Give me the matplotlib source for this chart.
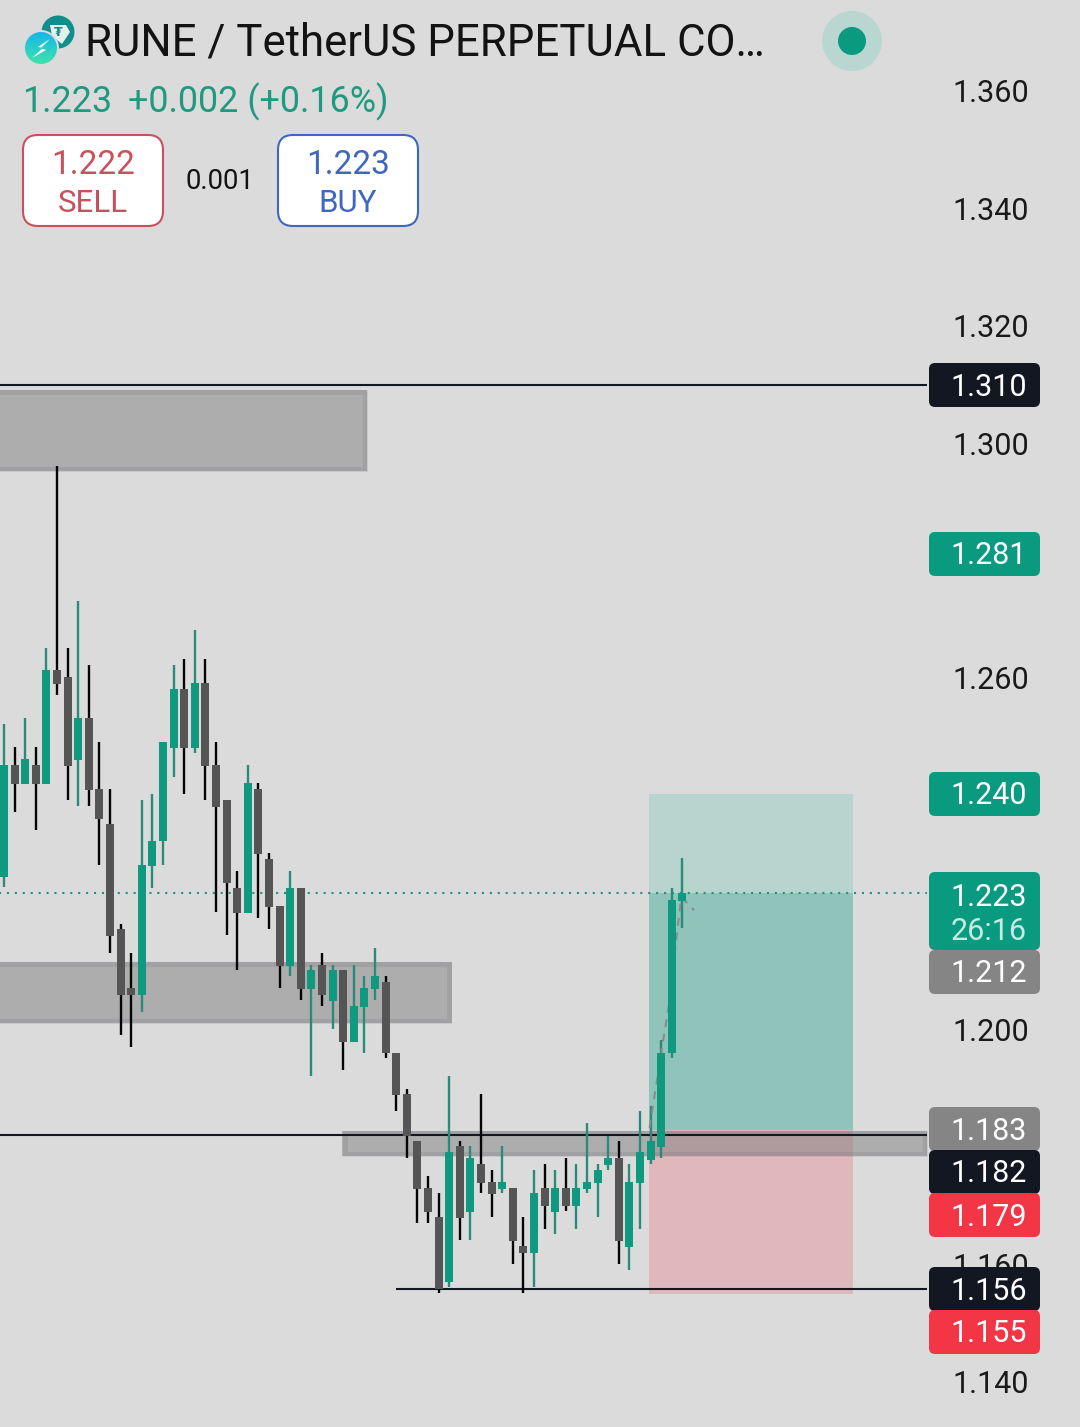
import numpy as np
import matplotlib
matplotlib.use("Agg")
import matplotlib.pyplot as plt
from matplotlib.patches import Rectangle, Circle, FancyBboxPatch, Polygon

plt.rcParams["font.family"] = ["Roboto", "DejaVu Sans"]

# ============================================================
# Candles, oldest first
# ============================================================
opens = [1.2261, 1.2451, 1.2419, 1.2451, 1.2419, 1.2613, 1.2602, 1.2460, 1.2531, 1.2411,
         1.2351, 1.2172, 1.2071, 1.2059, 1.2279, 1.2322, 1.2480, 1.2581, 1.2480, 1.2591,
         1.2451, 1.2392, 1.2241, 1.2199, 1.2411, 1.2292, 1.2211, 1.2109, 1.2241, 1.2070,
         1.2111, 1.2049, 1.2102, 1.1979, 1.2039, 1.2070, 1.2082, 1.1960, 1.1890, 1.1810,
         1.1730, 1.1681, 1.1571, 1.1802, 1.1690, 1.1771, 1.1741, 1.1729, 1.1730, 1.1632,
         1.1620, 1.1730, 1.1690, 1.1730, 1.1700, 1.1729, 1.1739, 1.1769, 1.1781, 1.1630,
         1.1739, 1.1779, 1.1800, 1.1960, 1.2219]
highs = [1.2521, 1.2482, 1.2531, 1.2482, 1.2651, 1.2961, 1.2651, 1.2731, 1.2622, 1.2490,
         1.2411, 1.2180, 1.2131, 1.2392, 1.2402, 1.2490, 1.2622, 1.2632, 1.2682, 1.2632,
         1.2490, 1.2392, 1.2270, 1.2451, 1.2421, 1.2302, 1.2211, 1.2270, 1.2241, 1.2111,
         1.2131, 1.2111, 1.2102, 1.2111, 1.2092, 1.2140, 1.2092, 1.1960, 1.1900, 1.1810,
         1.1751, 1.1722, 1.1921, 1.1810, 1.1802, 1.1890, 1.1761, 1.1802, 1.1730, 1.1681,
         1.1761, 1.1771, 1.1761, 1.1781, 1.1771, 1.1841, 1.1771, 1.1820, 1.1810, 1.1771,
         1.1861, 1.1871, 1.1982, 1.2241, 1.2293]
lows = [1.2244, 1.2372, 1.2419, 1.2341, 1.2419, 1.2571, 1.2392, 1.2382, 1.2382, 1.2281,
        1.2131, 1.1991, 1.1971, 1.2031, 1.2241, 1.2281, 1.2431, 1.2402, 1.2472, 1.2392,
        1.2201, 1.2162, 1.2102, 1.2199, 1.2190, 1.2172, 1.2071, 1.2092, 1.2051, 1.1921,
        1.2041, 1.2002, 1.1932, 1.1979, 1.1960, 1.2051, 1.1952, 1.1861, 1.1781, 1.1671,
        1.1671, 1.1552, 1.1562, 1.1642, 1.1642, 1.1722, 1.1681, 1.1722, 1.1601, 1.1552,
        1.1562, 1.1661, 1.1652, 1.1691, 1.1661, 1.1722, 1.1681, 1.1761, 1.1601, 1.1591,
        1.1661, 1.1771, 1.1781, 1.1952, 1.2174]
closes = [1.2451, 1.2419, 1.2461, 1.2419, 1.2613, 1.2589, 1.2449, 1.2531, 1.2409, 1.2360,
          1.2160, 1.2059, 1.2059, 1.2281, 1.2322, 1.2490, 1.2581, 1.2480, 1.2591, 1.2449,
          1.2380, 1.2250, 1.2199, 1.2421, 1.2300, 1.2209, 1.2109, 1.2241, 1.2070, 1.2102,
          1.2059, 1.2102, 1.1979, 1.2041, 1.2071, 1.2092, 1.1960, 1.1889, 1.1820, 1.1729,
          1.1690, 1.1559, 1.1792, 1.1679, 1.1781, 1.1739, 1.1720, 1.1741, 1.1640, 1.1620,
          1.1722, 1.1700, 1.1730, 1.1700, 1.1730, 1.1741, 1.1761, 1.1781, 1.1640, 1.1741,
          1.1792, 1.1810, 1.1960, 1.2221, 1.2233]

# projected path, x in bars and price
path_bars = [60.9, 61.9, 62.8, 63.5, 63.9, 65.1]
path_prices = [1.1833, 1.1949, 1.2051, 1.2167, 1.2226, 1.2204]

# ============================================================
# Levels and drawings
# ============================================================
shown_ticks = [1.36, 1.34, 1.32, 1.30, 1.26, 1.20, 1.16, 1.14]

level_prices = [1.3099, 1.1821, 1.15585]
level_starts = [-1, -1, 37.0]
last_price = 1.2233

zone_starts = [-1, -1, 31.9]
zone_ends = [34.25, 42.25, 87.1]
zone_tops = [1.30905, 1.21157, 1.18277]
zone_bottoms = [1.29524, 1.20117, 1.17850]

target_price = 1.2402
entry_price = 1.1829
stop_price = 1.1550

# price pills on the right
pill_texts = ["1.310", "1.281", "1.240", "1.212", "1.183", "1.182", "1.179", "1.156", "1.155"]
pill_colors = ["#131722", "#0a9a80", "#0a9a80", "#858585", "#858585", "#131722", "#f23645", "#131722", "#f23645"]
pill_centers = [385, 554, 794, 972, 1129, 1172, 1215, 1289, 1332]

# ============================================================
# Scales: one bar is 10.6 px, 0.02 of price is 117.37 px
# ============================================================
BAR_PX = 10.6
PX_PER_PRICE = 5868.0
W, H = 1080, 1427
PANE_END = (927 - 4) / BAR_PX

fig = plt.figure(figsize=(W / 100, H / 100), dpi=100, facecolor="#dbdbdb")
ax = fig.add_axes([0, 0, 1, 1], facecolor="#dbdbdb")
ax.set_xlim(-4 / BAR_PX, (W - 4) / BAR_PX)
ax.set_ylim(1.36 - (H - 91) / PX_PER_PRICE, 1.36 + 91 / PX_PER_PRICE)
for s in ax.spines.values():
    s.set_visible(False)
ax.set_xticks([])
ax.set_yticks(shown_ticks)
ax.set_yticklabels(["%.3f" % t for t in shown_ticks], va="center_baseline")
ax.yaxis.tick_right()
ax.tick_params(axis="y", length=0, pad=-92.2, labelsize=22, labelcolor="#1a1a1a")

# ============================================================
# Long position box
# ============================================================
box_x = [(649 - 4) / BAR_PX, (853 - 4) / BAR_PX]
ax.fill_between(box_x, last_price, target_price, color="#b7d4ce", lw=0, zorder=1)
ax.fill_between(box_x, entry_price, last_price, color="#90c3b9", lw=0, zorder=1)
ax.fill_between(box_x, stop_price, entry_price, color="#e0b8bb", lw=0, zorder=1)

# ============================================================
# Grey zones and level lines
# ============================================================
inset_x = 2.5 / BAR_PX
inset_y = 2.5 / PX_PER_PRICE
for x0, x1, top, bot in zip(zone_starts, zone_ends, zone_tops, zone_bottoms):
    ax.add_patch(Rectangle((x0, bot), x1 - x0, top - bot, facecolor=(0.5, 0.5, 0.5, 0.5),
                           edgecolor="none", zorder=2))
    ax.add_patch(Rectangle((x0 + inset_x, bot + inset_y), x1 - x0 - 2 * inset_x, top - bot - 2 * inset_y,
                           facecolor="none", edgecolor=(0.35, 0.35, 0.42, 0.14), lw=3.6, zorder=2))

ax.hlines(level_prices, level_starts, PANE_END, color="#131722", lw=1.5, zorder=3)
ax.hlines(last_price, -1, PANE_END, color="#2a8f7c", lw=1.5, linestyles=(0, (1, 2.8)), zorder=3)

# ============================================================
# Candles
# ============================================================
opens = np.array(opens)
closes = np.array(closes)
highs = np.array(highs)
lows = np.array(lows)
bars = np.arange(len(opens))
up = closes >= opens

ax.vlines(bars[up], lows[up], highs[up], color="#2a8b78", lw=1.7, zorder=4)
ax.vlines(bars[~up], lows[~up], highs[~up], color="#050505", lw=1.7, zorder=4)
body_bot = np.minimum(opens, closes)
body_h = np.abs(closes - opens)
ax.bar(bars[up], body_h[up], bottom=body_bot[up], width=0.75, color="#0f9a80", lw=0, zorder=5)
ax.bar(bars[~up], body_h[~up], bottom=body_bot[~up], width=0.75, color="#555555", lw=0, zorder=5)

ax.plot(path_bars, path_prices, color="#838c88", lw=1.4, linestyle=(0, (4, 3.5)), zorder=4.5)

# ============================================================
# Overlay in pixels: header and price pills
# ============================================================
ui = fig.add_axes([0, 0, 1, 1], zorder=5)
ui.patch.set_alpha(0)
ui.axis("off")
ui.set_xlim(0, W)
ui.set_ylim(H, 0)


def pill(y0, y1, color):
    ui.add_patch(FancyBboxPatch((934, y0 + 5), 101, y1 - y0 - 10,
                                boxstyle="round,pad=5,rounding_size=6",
                                facecolor=color, edgecolor="none", zorder=2))


pill(872, 950, "#0a9a80")
ui.text(989, 894, "1.223", color="white", fontsize=22, ha="center", va="center_baseline", zorder=3)
ui.text(989, 929, "26:16", color="#c5ebe2", fontsize=22, ha="center", va="center_baseline", zorder=3)
for txt, col, yc in zip(pill_texts, pill_colors, pill_centers):
    pill(yc - 22, yc + 22, col)
    ui.text(989, yc - 1, txt, color="white", fontsize=22, ha="center", va="center_baseline", zorder=3)

# header
ui.text(85, 55, "RUNE / TetherUS PERPETUAL CO…", color="#131313", fontsize=31.5, va="baseline")
ui.text(22, 112, "1.223", color="#1f9a7f", fontsize=25.8, va="baseline")
ui.text(128, 112, "+0.002 (+0.16%)", color="#1f9a7f", fontsize=25.8, va="baseline")

for x0, col, price, side, xc in [(23, "#c9505c", "1.222", "SELL", 93), (278, "#3f67bf", "1.223", "BUY", 348)]:
    ui.add_patch(FancyBboxPatch((x0 + 14, 149), 112, 63, boxstyle="round,pad=14,rounding_size=15",
                                facecolor="white", edgecolor=col, lw=1.5))
    ui.text(xc, 174, price, color=col, fontsize=24, ha="center", va="baseline")
    ui.text(xc, 212, side, color=col, fontsize=22.5, ha="center", va="baseline")
ui.text(220, 189, "0.001", color="#131313", fontsize=19.8, ha="center", va="baseline")

# status dot
ui.add_patch(Circle((852, 41), 30, facecolor="#b9d6d1", edgecolor="none"))
ui.add_patch(Circle((852, 41), 14, facecolor="#0a9a80", edgecolor="none"))

# coin icons
ui.add_patch(Circle((58, 32), 16.5, facecolor="#0e8f8c", edgecolor="none"))
ui.add_patch(Polygon([(50, 25), (66, 25), (70, 32), (62, 44), (52, 36)], closed=True, facecolor="#e8eeee", edgecolor="none"))
ui.text(58, 33, "₮", color="#0e8f8c", fontsize=9, ha="center", va="center", fontweight="bold",
        family=["DejaVu Sans"])
ui.add_patch(Circle((41, 48), 18, facecolor="#dbdbdb", edgecolor="none"))
grad = np.linspace(0, 1, 64).reshape(-1, 1)
img = ui.imshow(grad, extent=(25, 57, 64, 32), aspect="auto", zorder=2,
                cmap=matplotlib.colors.LinearSegmentedColormap.from_list("coin", ["#16b6ec", "#3fe3a8"]))
img.set_clip_path(Circle((41, 48), 16, transform=ui.transData))
ui.add_patch(Polygon([(50, 39), (38, 47), (43, 48), (32, 58), (46, 50), (41, 48)], closed=True,
                     facecolor="white", edgecolor="none", zorder=3))
ui.set_xlim(0, W)
ui.set_ylim(H, 0)

fig.savefig("out.png", dpi=100, facecolor=fig.get_facecolor())
